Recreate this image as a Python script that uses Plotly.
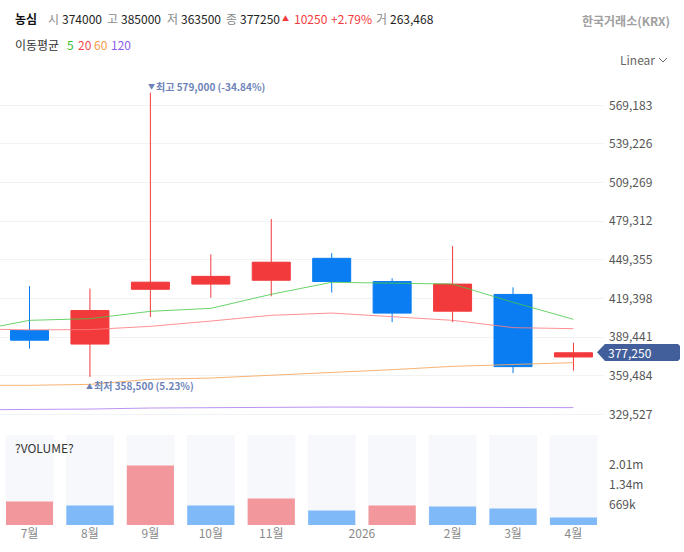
import plotly.graph_objects as go

# ---- data ----
months = ["7월", "8월", "9월", "10월", "11월", "12월", "1월", "2월", "3월", "4월"]
idx = list(range(10))
opens = [394500, 384000, 426500, 430500, 433500, 450500, 432500, 409500, 422500, 374000]
highs = [429000, 427000, 579000, 453500, 481000, 454500, 435000, 460000, 428000, 385000]
lows = [380500, 358500, 405000, 420000, 421000, 424000, 401000, 401000, 361500, 363500]
closes = [387000, 410000, 432000, 436500, 447500, 432500, 408000, 430500, 366500, 377250]
volumes = [803000, 669000, 2007000, 669000, 903000, 500000, 669000, 635000, 569000, 263468]
volume_up = [True, False, True, False, True, False, True, False, False, False]

ma_x = [-0.49, 0, 1, 2, 3, 4, 5, 6, 7, 8, 9]
ma5 = [398000, 402400, 403700, 409400, 411700, 422600, 431900, 431500, 430550, 416400, 403200]
ma20 = [395400, 395000, 395200, 397750, 401850, 406300, 408050, 405500, 402400, 396750, 395950]
ma60 = [352000, 352000, 352750, 356650, 357650, 359750, 362300, 364150, 366700, 368050, 369600]
ma120 = [333150, 333150, 333600, 334400, 334900, 334900, 335150, 334900, 334700, 334700, 334700]

price_ticks = [569183, 539226, 509269, 479312, 449355, 419398, 389441, 359484, 329527]
price_labels = ["569,183", "539,226", "509,269", "479,312", "449,355", "419,398", "389,441", "359,484", "329,527"]
vol_ticks = [669000, 1340000, 2010000]
vol_labels = ["669k", "1.34m", "2.01m"]
x_ticks = [0, 1, 2, 3, 4, 5.5, 7, 8, 9]
x_labels = ["7월", "8월", "9월", "10월", "11월", "2026", "2월", "3월", "4월"]

W, H = 684, 552
RED, BLUE = "#f23a3c", "#0a7df2"
VRED, VBLUE = "#f2979c", "#80b9f8"
FONT = "Noto Sans CJK KR"
PLOT_R = 603
STEP = 60.44
X0 = 29.5
x_range = [-X0 / STEP, (PLOT_R - X0) / STEP]
UNIT = 29957 / 38.625
P_TOP, P_BOT = 70, 424
y_range = [569183 - (P_BOT - 105.3) * UNIT, 569183 + (105.3 - P_TOP) * UNIT]
V_TOP, V_BOT = 435, 525
v_range = [0, (V_BOT - V_TOP) * 33450]


def py(p):
    return 1 - p / H


fig = go.Figure()

# volume panel
fig.add_trace(go.Bar(x=idx, y=[v_range[1]] * 10, width=48 / STEP, marker=dict(color="#f7f8fc", line_width=0),
                     xaxis="x2", yaxis="y2", hoverinfo="skip"))
vcol = [VRED if u else VBLUE for u in volume_up]
vlight = ["#f8c6c8" if u else "#b9d8fb" for u in volume_up]
fig.add_trace(go.Bar(x=idx, y=volumes, width=47 / STEP, marker=dict(color=vlight, line_width=0),
                     xaxis="x2", yaxis="y2", hoverinfo="skip"))
fig.add_trace(go.Bar(x=idx, y=[v - 33450 for v in volumes], width=47 / STEP, marker=dict(color=vcol, line_width=0),
                     xaxis="x2", yaxis="y2", hoverinfo="skip"))

# candles
fig.add_trace(go.Candlestick(
    x=idx, open=opens, high=highs, low=lows, close=closes, xaxis="x", yaxis="y",
    increasing=dict(line=dict(color=RED, width=1), fillcolor=RED),
    decreasing=dict(line=dict(color=BLUE, width=1), fillcolor=BLUE),
    whiskerwidth=0, hoverinfo="skip"))

# moving averages
for vals, col in [(ma120, "rgba(170,120,240,0.8)"), (ma60, "rgba(247,170,100,0.9)"),
                  (ma20, "rgba(255,125,130,0.85)"), (ma5, "rgba(70,200,70,0.8)")]:
    fig.add_trace(go.Scatter(x=ma_x, y=vals, mode="lines", line=dict(color=col, width=1),
                             xaxis="x", yaxis="y", hoverinfo="skip"))

ann = []


def txt(x, y, s, color="#222222", size=12, bold=False, anchor="left"):
    ann.append(dict(xref="paper", yref="paper", x=x / W, y=py(y), text=f"<b>{s}</b>" if bold else s,
                    showarrow=False, xanchor=anchor, yanchor="middle", align="left",
                    font=dict(family=FONT, size=size, color=color), borderpad=0, borderwidth=0))


# header row
GR = "#8a8a8a"
for x, s, c, b in [
    (15, "농심", "#111111", True), (48, "시", GR, False), (62, "374000", "#222222", False),
    (107, "고", GR, False), (121, "385000", "#222222", False), (167, "저", GR, False),
    (181, "363500", "#222222", False), (226, "종", GR, False), (240, "377250", "#222222", False),
    (282, "▲", "#f23a3c", False), (294, "10250", "#f23a3c", False), (331, "+2.79%", "#f23a3c", False),
    (376, "거", GR, False), (390, "263,468", "#222222", False),
]:
    txt(x, 18, s, c, 7 if s == "▲" else 12, b)
txt(670, 20, "한국거래소(KRX)", "#a0a0a0", 12, True, "right")
txt(15, 44.5, "이동평균", "#333333", 12)
for x, s, c in [(67, "5", "#2fbf2f"), (78, "20", "#f5474c"), (94, "60", "#f59a45"), (111, "120", "#8f5cf0")]:
    txt(x, 44.5, s, c, 12)
txt(620, 59.5, "Linear", "#666666", 12)
txt(15, 447, "?VOLUME?", "#333333", 12)
MARK = "#6d83b8"
txt(148, 86, "▼", MARK, 7)
txt(156, 86, "최고 579,000 (-34.84%)", MARK, 10, True)
txt(86, 385.5, "▲", MARK, 7)
txt(94, 385.5, "최저 358,500 (5.23%)", MARK, 10, True)
txt(608, 352.5, "377,250", "#ffffff", 12)


def path(points, close=False):
    d = "M" + " L".join(f"{x / W:.5f},{py(y):.5f}" for x, y in points)
    return d + (" Z" if close else "")


shapes = [
    dict(type="path", xref="paper", yref="paper", layer="above", fillcolor="#435f9b", line=dict(width=0),
         path=path([(597, 352.3), (605, 344), (678, 344), (680, 346), (680, 359), (678, 361), (605, 361)], True)),
    dict(type="path", xref="paper", yref="paper", layer="above", line=dict(color="#666666", width=1),
         path=path([(659, 58), (663, 62), (667, 58)])),
]

axfont = dict(family=FONT, size=12, color="#555555")
fig.update_layout(
    width=W, height=H, margin=dict(l=0, r=0, t=0, b=0), paper_bgcolor="white", plot_bgcolor="white",
    showlegend=False, barmode="overlay", boxgap=1 - 38 / STEP, boxgroupgap=0,
    annotations=ann, shapes=shapes, font=dict(family=FONT),
    xaxis=dict(domain=[0, PLOT_R / W], range=x_range, anchor="y", showticklabels=False, showgrid=False,
               zeroline=False, ticks="", rangeslider=dict(visible=False), fixedrange=True),
    yaxis=dict(domain=[py(P_BOT), py(P_TOP)], range=y_range, anchor="x", side="right", tickmode="array",
               tickvals=price_ticks, ticktext=price_labels, tickfont=axfont, showgrid=True, gridcolor="#f1f2f4",
               gridwidth=1, zeroline=False, ticks="", showline=False, ticklabelstandoff=5, fixedrange=True),
    xaxis2=dict(domain=[0, PLOT_R / W], range=x_range, anchor="y2", tickmode="array", tickvals=x_ticks,
                ticktext=x_labels, tickfont=dict(family=FONT, size=12, color="#8a8a8a"), showgrid=False,
                zeroline=False, ticks="", showline=False, fixedrange=True),
    yaxis2=dict(domain=[py(V_BOT), py(V_TOP)], range=v_range, anchor="x2", side="right", tickmode="array",
                tickvals=vol_ticks, ticktext=vol_labels, tickfont=axfont, showgrid=False, zeroline=False,
                ticks="", showline=False, ticklabelstandoff=5, fixedrange=True),
)

fig.write_html("out.html", config={"displayModeBar": False},
               post_script="document.body.style.margin='0';document.documentElement.style.overflow='hidden';")
